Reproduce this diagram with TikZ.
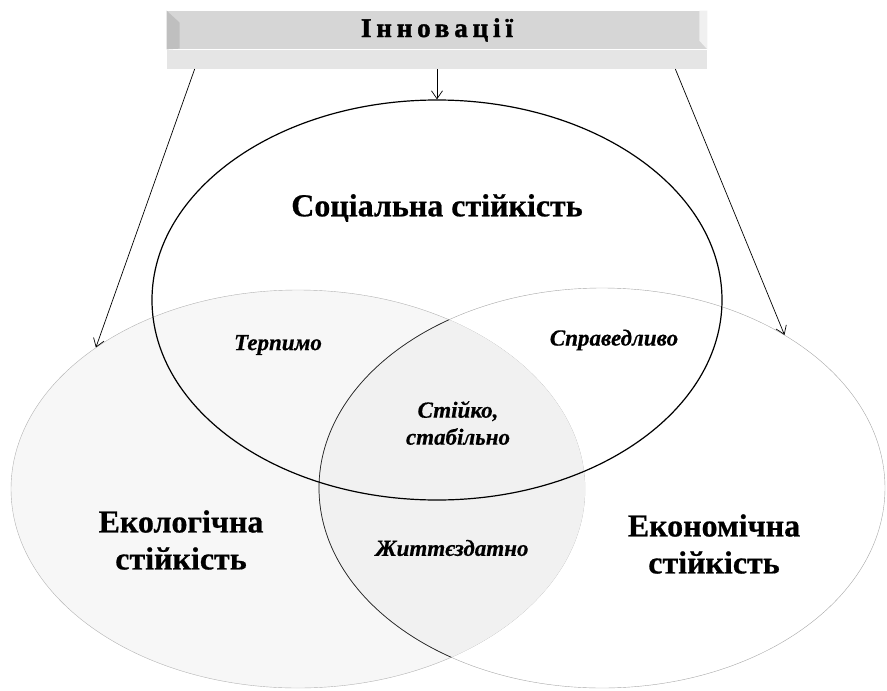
\documentclass[tikz,border=0pt]{standalone}
\usepackage{fontspec}
\setmainfont{Liberation Serif}[BoldFeatures={FakeBold=0.6},BoldItalicFeatures={FakeBold=0.5}]
\newfontfamily\spacedfont{Liberation Serif}[LetterSpace=18,BoldFeatures={FakeBold=1.5}]
\usetikzlibrary{shapes.geometric,calc,arrows.meta}

\begin{document}
\begin{tikzpicture}[x=1pt,y=-1pt,>={Straight Barb[length=8pt,width=11pt]},line width=0.7pt,
    big label/.style={font=\fontsize{32}{37}\selectfont\bfseries,align=center},
    small label/.style={font=\fontsize{23}{27}\selectfont\bfseries\itshape,align=center},
    sphere/.style={ellipse,inner sep=0pt,minimum width=570pt,minimum height=400pt},
    band/.style={inner sep=0pt,minimum width=540pt}]

  \useasboundingbox (0,0) rectangle (887,691);

  % the three spheres
  \node[sphere,minimum width=574pt,minimum height=398pt,fill=gray!6,draw=gray!60,thin] (eco) at (298,489) {};
  \begin{scope}
    \clip (602,488) ellipse [x radius=283pt,y radius=200pt];
    \fill[gray!11] (eco.center) ellipse [x radius=287pt,y radius=199pt];
  \end{scope}
  \node[sphere,minimum width=566pt,draw=gray!70,thin] (econ) at (602,488) {};
  \begin{scope}
    \clip (eco.center) ellipse [x radius=287pt,y radius=199pt];
    \draw[black!85] (econ.center) ellipse [x radius=283pt,y radius=200pt];
  \end{scope}
  \node[sphere,draw=black,line width=1.2pt] (soc) at (437,300) {};

  % banner
  \node[band,fill=gray!32,minimum height=38pt,font=\spacedfont\fontsize{27}{30}\selectfont\bfseries] (banner) at (437,30) {Інновації};
  \node[band,fill=gray!20,minimum height=19pt,anchor=north] (foot) at (banner.south) {};
  \fill[gray!50] (banner.north west) -- ++(13,12) -- ++(0,26) -- (banner.south west) -- cycle;
  \fill[gray!12] (banner.north east) -- ++(-8,0) -- ++(0,30) -- (banner.south east) -- cycle;

  \path[->]
    ($(foot.south west)+(28,0)$) edge (eco.145)
    (foot.south) edge (soc.north)
    ($(foot.south east)+(-32,0)$) edge (econ.40);

  % labels
  \node[big label] (soctitle) at (437,208) {Соціальна стійкість};
  \node[big label] (ecotitle) at (181,540) {Екологічна\\стійкість};
  \node[big label] (econtitle) at (714,544) {Економічна\\стійкість};
  \node[small label] (tolerable) at (278,345) {Терпимо};
  \node[small label] (fair) at (614,340) {Справедливо};
  \node[small label] (stable) at (458,423) {Стійко,\\стабільно};
  \node[small label] (viable) at (452,548) {Життєздатно};
\end{tikzpicture}
\end{document}
